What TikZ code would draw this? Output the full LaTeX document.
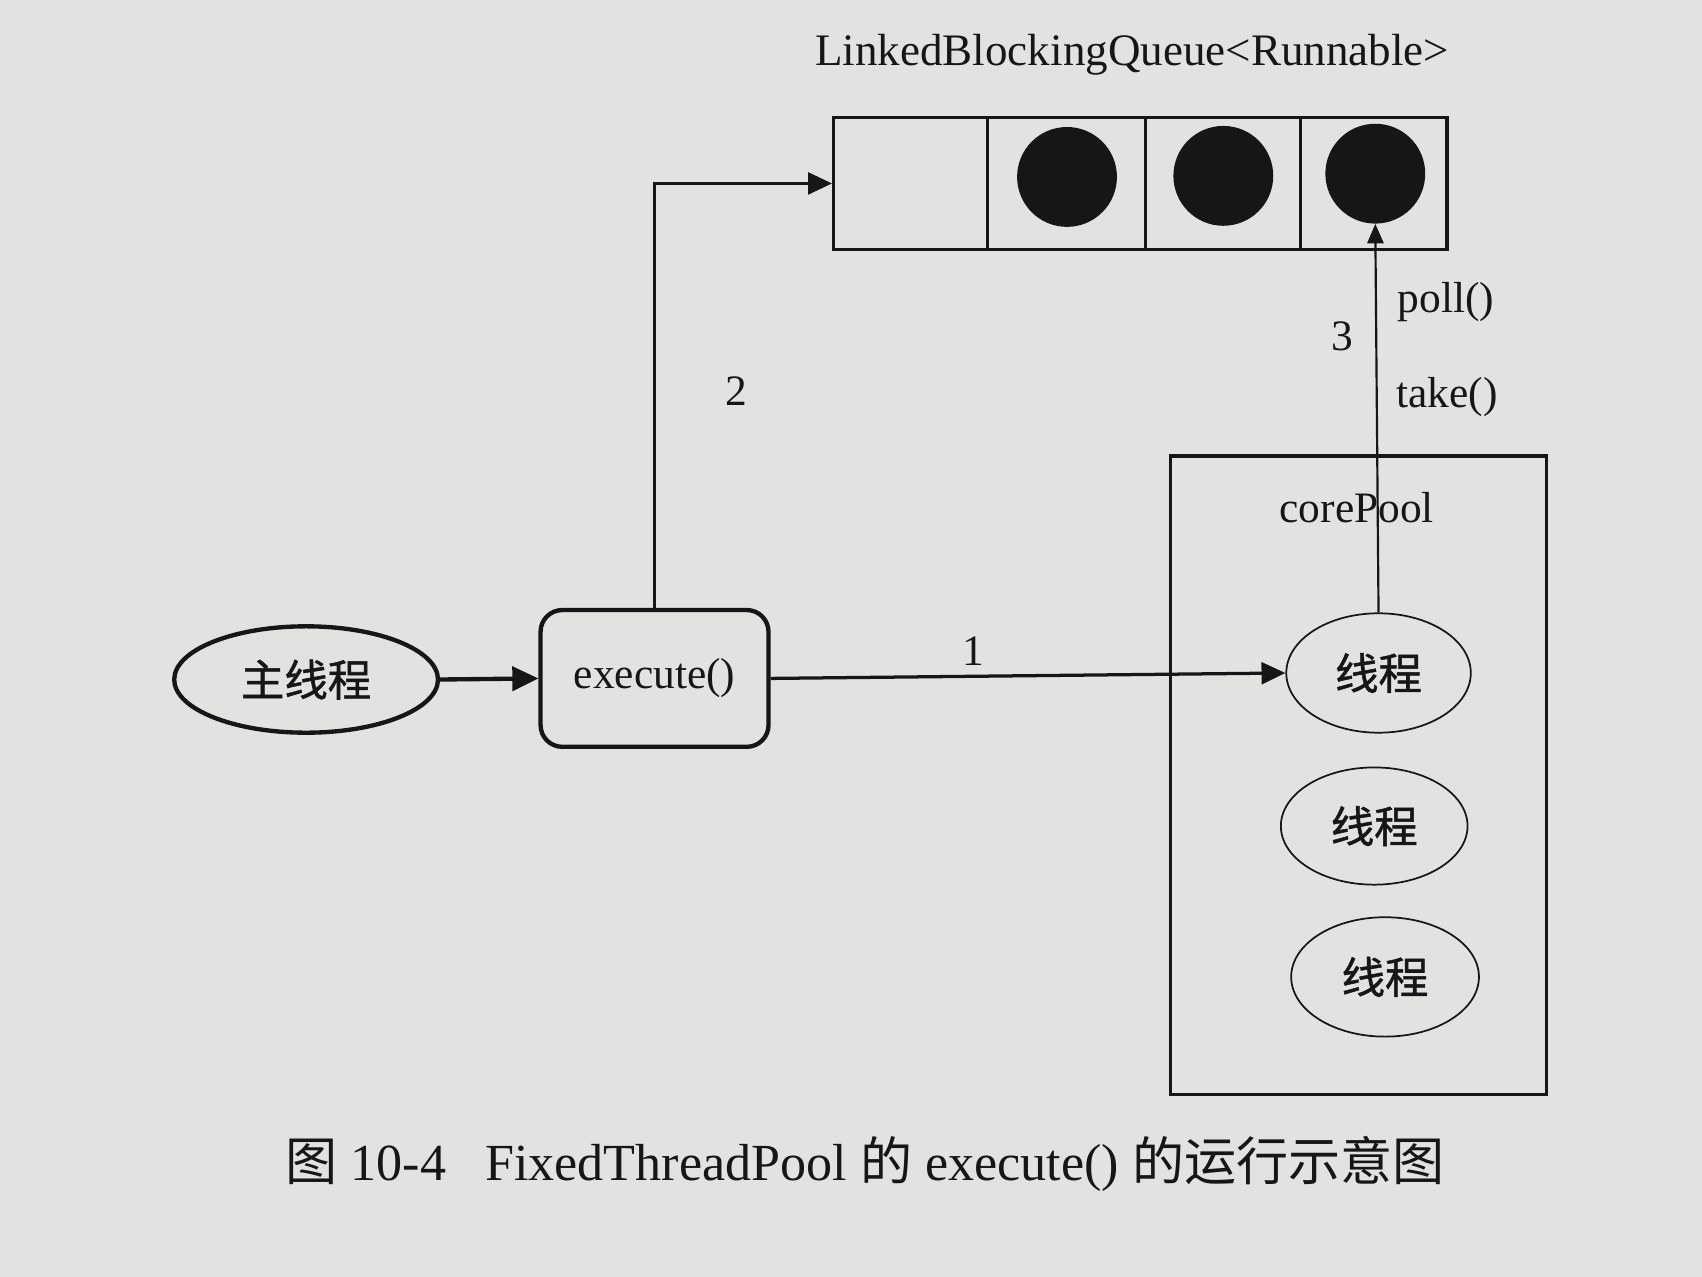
\documentclass[tikz,border=0pt]{standalone}
\usepackage{fontspec}
\setmainfont{Liberation Serif}
\newfontfamily\cjk[FakeBold=1.2]{Noto Sans CJK SC}
\newfontfamily\cjkcap{Noto Sans CJK SC}
\usetikzlibrary{shapes.geometric,arrows.meta}
\definecolor{paper}{RGB}{226,226,224}
\definecolor{ink}{RGB}{22,22,22}
\tikzset{
  lbl/.style={font=\fontsize{40}{44}\selectfont, text=ink, inner sep=0pt},
  cjklbl/.style={font=\cjk\fontsize{40}{44}\selectfont, text=ink, inner sep=0pt},
  mainell/.style={draw=ink, line width=4pt, ellipse, inner sep=0pt, minimum width=243pt, minimum height=98pt},
  execbox/.style={draw=ink, line width=4pt, rectangle, rounded corners=20pt, inner sep=0pt, minimum width=210pt, minimum height=126pt},
  cell/.style={draw=ink, line width=3pt, rectangle, inner sep=0pt, minimum height=122pt},
  dot/.style={fill=ink, circle, inner sep=0pt, minimum size=92pt},
  poolbox/.style={draw=ink, line width=3pt, rectangle, inner sep=0pt, minimum width=347pt, minimum height=588pt},
  thr/.style={draw=ink, line width=1.6pt, ellipse, inner sep=0pt, minimum width=170pt, minimum height=110pt},
  bigarrow/.style={draw=ink, line width=4pt, -{Triangle[length=24pt,width=22pt]}},
  midarrow/.style={draw=ink, line width=3pt, -{Triangle[length=22pt,width=20pt]}},
  thinarrow/.style={draw=ink, line width=2pt, -{Triangle[length=18pt,width=15pt]}},
}
\begin{document}
\begin{tikzpicture}[x=1pt,y=-1pt]
  \fill[paper] (0,0) rectangle (1568,1176);
  \useasboundingbox (0,0) rectangle (1568,1176);

  % title
  \node[lbl, font=\fontsize{41.5}{46}\selectfont] (title) at (1043,50) {LinkedBlockingQueue<Runnable>};

  % queue
  \node[cell, minimum width=142pt] (q1) at (839,169) {};
  \node[cell, minimum width=145pt] (q2) at (982.5,169) {};
  \node[cell, minimum width=143pt] (q3) at (1126.5,169) {};
  \node[cell, minimum width=135pt] (q4) at (1265.5,169) {};
  \node[dot] (d2) at (983,163) {};
  \node[dot] (d3) at (1127,162) {};
  \node[dot] (d4) at (1267,160) {};

  % main thread and execute
  \node[mainell, cjklbl] (main) at (282,626) {主线程};
  \node[execbox, lbl] (exec) at (603,625) {execute()};

  % core pool
  \node[poolbox] (pool) at (1251.5,714) {};
  \node[lbl] (poollbl) at (1250,468) {corePool};
  \node[thr, cjklbl] (t1) at (1270,620) {线程};
  \node[thr, cjklbl, minimum width=172pt, minimum height=108pt] (t2) at (1266,761) {线程};
  \node[thr, cjklbl, minimum width=173pt] (t3) at (1276,900) {线程};

  % connectors
  \draw[bigarrow] (main.east) -- (exec.west);
  \draw[midarrow] (exec.north) |- (q1.west);
  \draw[midarrow] (exec.east) -- (t1.west);
  \draw[thinarrow] (t1.north) -- (d4.south);

  % labels
  \node[lbl] (n1) at (897,600) {1};
  \node[lbl] (n2) at (678,360) {2};
  \node[lbl] (n3) at (1237,310) {3};
  \node[lbl] (poll) at (1332,278) {poll()};
  \node[lbl] (take) at (1333,366) {take()};

  % caption
  \node[font=\fontsize{48}{52}\selectfont, text=ink, inner sep=0pt] (cap) at (797,1072)
    {{\cjkcap 图} 10-4\hspace{36pt}FixedThreadPool {\cjkcap 的} execute() {\cjkcap 的运行示意图}};
\end{tikzpicture}
\end{document}
